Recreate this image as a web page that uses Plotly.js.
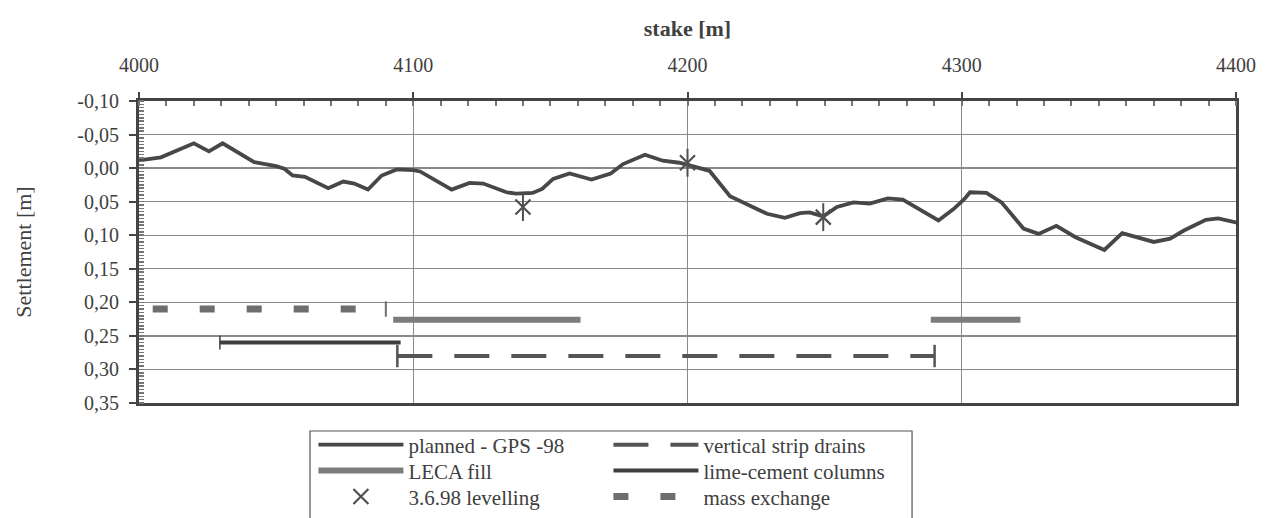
<!DOCTYPE html>
<html>
<head>
<meta charset="utf-8">
<script src="https://cdn.plot.ly/plotly-3.0.1.min.js"></script>
<style>html,body{margin:0;padding:0;background:#fff;}#chart{width:1269px;height:518px;}</style>
</head>
<body>
<div id="chart"></div>
<script>
// planned - GPS -98 settlement profile
const stakes = [3997,4008,4020,4025.5,4030.5,4037,4042,4050,4053,4056,4060.5,4069,4074.5,4078.5,4083.5,4088.5,4094,4100,4102.5,4114,4120.5,4125.5,4134,4137.5,4143.5,4147,4151,4157,4165,4172,4176.5,4184.5,4191,4197,4200,4208,4215.5,4221.5,4229,4235.5,4241,4244.5,4249.5,4254.5,4260.5,4266.5,4273,4278.5,4284.5,4291.5,4297,4301,4303,4309,4314.5,4322.5,4328,4334.5,4341.5,4352,4358.5,4370,4376,4381,4389,4393.5,4400,4403];
const settlement = [-0.010,-0.016,-0.037,-0.025,-0.037,-0.021,-0.009,-0.003,0.001,0.011,0.013,0.030,0.020,0.023,0.032,0.011,0.002,0.003,0.005,0.032,0.022,0.023,0.036,0.038,0.037,0.031,0.016,0.008,0.017,0.008,-0.006,-0.020,-0.011,-0.008,-0.005,0.004,0.042,0.053,0.068,0.074,0.067,0.066,0.072,0.058,0.051,0.053,0.045,0.047,0.062,0.078,0.061,0.046,0.036,0.037,0.051,0.090,0.098,0.086,0.103,0.122,0.097,0.110,0.105,0.093,0.077,0.075,0.081,0.085];

// 3.6.98 levelling
const levelStake = [4140, 4200, 4249.5];
const levelValue = [0.058, -0.008, 0.073];

// treatment zones (start/end stake, plotted level)
const lecaStake = [4092.7, 4161, null, 4288.7, 4321.4];
const lecaLevel = [0.226, 0.226, null, 0.226, 0.226];
const drainStake = [4094.2, 4290.1];
const drainLevel = [0.28, 0.28];
const limeStake = [4029.5, 4095.4];
const limeLevel = [0.26, 0.26];
const massStake = [4005, 4090];
const massLevel = [0.21, 0.21];

// axis ticks
const yTickVals = [-0.10,-0.05,0.00,0.05,0.10,0.15,0.20,0.25,0.30,0.35];
const yTickText = ['-0,10','-0,05','0,00','0,05','0,10','0,15','0,20','0,25','0,30','0,35'];
const xTickVals = [4000,4100,4200,4300,4400];

const FONT = 'Liberation Serif';
const TXT = '#404040';

const traces = [
  {x: stakes, y: settlement, mode:'lines', name:'planned - GPS -98', legend:'legend',
   line:{color:'#474747', width:3.8}},
  {x: drainStake, y: drainLevel, mode:'lines', name:'vertical strip drains', legend:'legend',
   line:{color:'#545454', width:4, dash:'35px,22px'}},
  {x: lecaStake, y: lecaLevel, mode:'lines', name:'LECA fill', legend:'legend2',
   line:{color:'#7c7c7c', width:6}},
  {x: limeStake, y: limeLevel, mode:'lines', name:'lime-cement columns', legend:'legend2',
   line:{color:'#3e3e3e', width:4}},
  {x: levelStake, y: levelValue, mode:'markers', name:'3.6.98 levelling', legend:'legend3',
   marker:{symbol:'x-thin-open', size:15, color:'#505050', line:{color:'#505050', width:2.2}}},
  {x: massStake, y: massLevel, mode:'lines', name:'mass exchange', legend:'legend3',
   line:{color:'#6e6e6e', width:7, dash:'15px,32px'}},
  // asterisk vertical stroke and end caps
  {x: levelStake, y: levelValue, mode:'markers', showlegend:false, hoverinfo:'skip',
   marker:{symbol:'line-ns-open', size:20, color:'#505050', line:{color:'#505050', width:2}}},
  {x: drainStake, y: drainLevel, mode:'markers', showlegend:false, hoverinfo:'skip',
   marker:{symbol:'line-ns', size:16, line:{color:'#545454', width:2.5}}},
  {x: [massStake[1]], y: [massLevel[1]], mode:'markers', showlegend:false, hoverinfo:'skip',
   marker:{symbol:'line-ns', size:11, line:{color:'#6e6e6e', width:2}}},
  {x: [limeStake[0]], y: [limeLevel[0]], mode:'markers', showlegend:false, hoverinfo:'skip',
   marker:{symbol:'line-ns', size:10, line:{color:'#3e3e3e', width:1.5}}}
];

const legendBase = {x:0.159, xanchor:'left', yanchor:'middle', orientation:'h',
  bgcolor:'rgba(0,0,0,0)', borderwidth:0, itemwidth:85, entrywidth:195, entrywidthmode:'pixels',
  font:{size:21, color:TXT, family:FONT}};

const layout = {
  width:1269, height:518,
  margin:{l:139, r:33, t:101, b:115, autoexpand:false},
  paper_bgcolor:'#ffffff', plot_bgcolor:'#ffffff',
  font:{family:FONT, color:TXT, size:20},
  xaxis:{
    side:'top', range:[4000,4400], tickmode:'array', tickvals:xTickVals,
    ticks:'outside', ticklen:6, tickwidth:2, tickcolor:'#444',
    ticklabelstandoff:12,
    showline:true, linecolor:'#444', linewidth:3, mirror:true,
    showgrid:true, gridcolor:'#8a8a8a', gridwidth:1.3, zeroline:false,
    tickfont:{size:20, color:TXT, family:FONT},
    minor:{tickmode:'linear', tick0:4000, dtick:10, ticks:'inside', ticklen:5, tickwidth:2, tickcolor:'#777', showgrid:false},
    title:{text:'stake [m]', font:{size:22, color:TXT, family:FONT, weight:'bold'}, standoff:12}
  },
  yaxis:{
    range:[0.35,-0.10], tickmode:'array', tickvals:yTickVals, ticktext:yTickText,
    ticks:'outside', ticklen:7, tickwidth:2, tickcolor:'#444',
    ticklabelstandoff:6,
    showline:true, linecolor:'#444', linewidth:3, mirror:true,
    showgrid:true, gridcolor:'#8a8a8a', gridwidth:1.3, zeroline:false,
    tickfont:{size:20, color:TXT, family:FONT},
    minor:{tickmode:'linear', tick0:0, dtick:0.005, ticks:'inside', ticklen:5, tickwidth:1.5, tickcolor:'#777', showgrid:false},
    title:{text:'Settlement [m]', font:{size:22, color:TXT, family:FONT}, standoff:40}
  },
  legend:Object.assign({}, legendBase, {y:-0.139}),
  legend2:Object.assign({}, legendBase, {y:-0.225}),
  legend3:Object.assign({}, legendBase, {y:-0.311}),
  shapes:[
    {type:'rect', xref:'paper', yref:'paper', x0:0.1559, x1:0.7047, y0:-0.0927, y1:-0.385,
     line:{color:'#555', width:1.2}, fillcolor:'rgba(0,0,0,0)'}
  ],
  showlegend:true
};

Plotly.newPlot('chart', traces, layout, {displayModeBar:false, staticPlot:true});
</script>
</body>
</html>
